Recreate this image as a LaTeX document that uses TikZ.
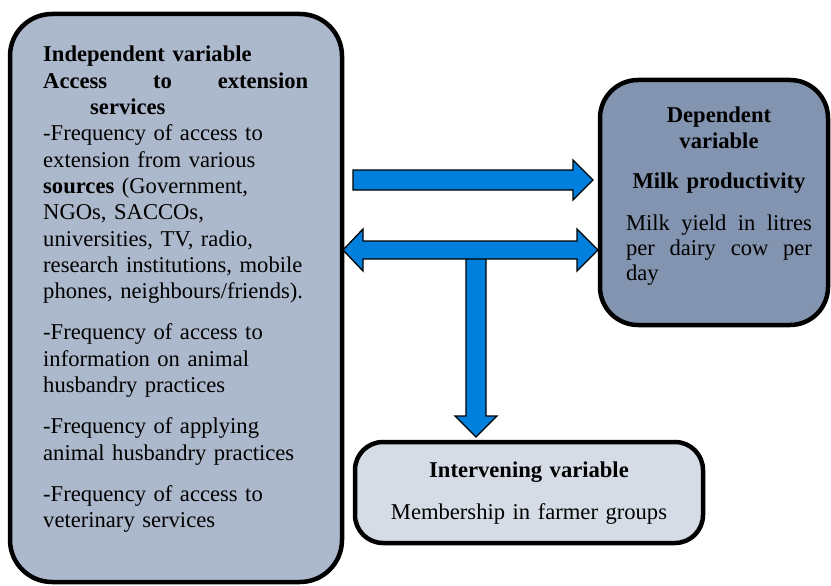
\documentclass[tikz,border=0pt]{standalone}
\usepackage{fontspec}
\setmainfont{Liberation Serif}

\definecolor{indepfill}{RGB}{172,184,203}
\definecolor{depfill}{RGB}{131,148,176}
\definecolor{intervfill}{RGB}{214,220,229}
\definecolor{arrowblue}{RGB}{0,128,220}

\begin{document}
\begin{tikzpicture}[x=1pt,y=-1pt,
    varbox/.style={draw=black, line width=4.5pt, rounded corners=#1},
    vartext/.style={inner sep=0pt, font=\fontsize{22.6}{26.3}\selectfont},
    blockarrow/.style={draw=black, fill=arrowblue, line width=1.3pt, line join=miter}]
  \useasboundingbox (0,0) rectangle (831,586);

  % the three variable boxes
  \node[varbox=42pt, fill=indepfill, minimum width=332pt, minimum height=568pt] (indep) at (176,298) {};
  \node[varbox=38pt, fill=depfill, minimum width=228pt, minimum height=245pt] (dep) at (714,202.5) {};
  \node[varbox=28pt, fill=intervfill, minimum width=348pt, minimum height=101pt] (interv) at (529,492.5) {};

  \node[vartext, anchor=base west, text width=265pt, align=left] (indeptext) at (43,62) {%
    \textbf{Independent variable}\\
    \textbf{Access}\hfill\textbf{to}\hfill\textbf{extension}\\
    \hspace*{47pt}\textbf{services}\\
    -Frequency of access to\\
    extension from various\\
    \textbf{sources} (Government,\\
    NGOs, SACCOs,\\
    universities, TV, radio,\\
    research institutions, mobile\\
    phones, neighbours/friends).\\[15pt]
    -Frequency of access to\\
    information on animal\\
    husbandry practices\\[15pt]
    -Frequency of applying\\
    animal husbandry practices\\[15pt]
    -Frequency of access to\\
    veterinary services};

  \node[vartext, anchor=base, text width=186pt, align=center, font=\fontsize{22.6}{25}\selectfont] (deptext) at (719,123) {%
    \textbf{Dependent}\\
    \textbf{variable}\\[16pt]
    \textbf{Milk productivity}\\[17pt]
    Milk\hfill yield\hfill in\hfill litres\\
    per\hfill dairy\hfill cow\hfill per\\
    day\hfill\null};

  \node[vartext, anchor=base, text width=320pt, align=center, font=\fontsize{22.6}{25}\selectfont] (intervtext) at (529,477) {%
    \textbf{Intervening variable}\\[17pt]
    Membership in farmer groups};

  % block arrows between the boxes
  \draw[blockarrow] (353,170) -- (573,170) -- (573,160) -- (593,180) -- (573,200) -- (573,190) -- (353,190) -- cycle;
  \draw[blockarrow] (466,258) -- (486,258) -- (486,416) -- (497,416) -- (476,437) -- (455,416) -- (466,416) -- cycle;
  \draw[blockarrow] (343,250) -- (363,229) -- (363,241) -- (577,241) -- (577,229) -- (598,250) -- (577,271) -- (577,259) -- (363,259) -- (363,271) -- cycle;
\end{tikzpicture}
\end{document}
